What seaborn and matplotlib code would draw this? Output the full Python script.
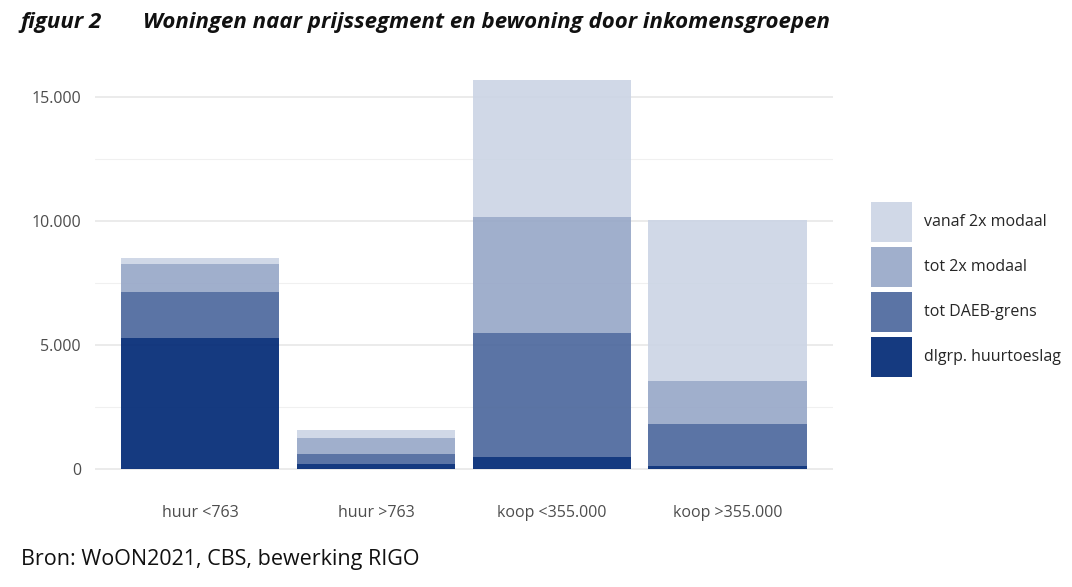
import pandas as pd
import numpy as np
import matplotlib
matplotlib.use('Agg')
import matplotlib.pyplot as plt
import seaborn as sns
from matplotlib.ticker import FuncFormatter, MultipleLocator
from matplotlib.patches import Patch

# data
categories = ['huur <763', 'huur >763', 'koop <355.000', 'koop >355.000']
segments = ['dlgrp. huurtoeslag', 'tot DAEB-grens', 'tot 2x modaal', 'vanaf 2x modaal']
huurtoeslag = [5280, 200, 480, 100]
tot_daeb = [1860, 400, 5000, 1710]
tot_2x = [1130, 650, 4680, 1740]
vanaf_2x = [230, 320, 5530, 6490]

colors = ['#153a80', '#5b74a5', '#a0afcc', '#d0d8e7']

rows = []
for seg, vals in zip(segments, [huurtoeslag, tot_daeb, tot_2x, vanaf_2x]):
    for c, v in zip(categories, vals):
        rows.append({'categorie': c, 'segment': seg, 'aantal': v})
df = pd.DataFrame(rows)

sns.set_style('white')
plt.rcParams['font.family'] = ['Open Sans', 'DejaVu Sans']

fig = plt.figure(figsize=(10.72, 5.87), dpi=100)
ax = fig.add_axes([0.0886, 0.168, 0.6884, 0.730])

# light grid like ggplot
ax.yaxis.set_major_locator(MultipleLocator(5000))
ax.yaxis.set_minor_locator(MultipleLocator(2500))
ax.grid(which='major', axis='y', color='#e6e6e6', linewidth=1.1)
ax.grid(which='minor', axis='y', color='#f0f0f0', linewidth=0.8)
ax.set_axisbelow(True)

alpha = 0.92
bottom = np.zeros(len(categories))
for seg, col in zip(segments, colors):
    rgb = np.array(matplotlib.colors.to_rgb(col))
    base = np.clip((rgb - (1 - alpha)) / alpha, 0, 1)
    sub = df[df['segment'] == seg]
    sns.barplot(data=sub, x='categorie', y='aantal', order=categories,
                color=base, alpha=alpha, width=0.9, bottom=bottom,
                saturation=1, linewidth=0, ax=ax)
    bottom = bottom + sub['aantal'].to_numpy()

ax.set_xlim(-0.6, 3.6)
ax.set_ylim(-785, 16485)
ax.yaxis.set_major_formatter(FuncFormatter(lambda v, p: f'{int(v):,}'.replace(',', '.')))
ax.set_xlabel('')
ax.set_ylabel('')
ax.tick_params(axis='both', which='both', length=0, labelsize=11.5, labelcolor='#4d4d4d')
ax.tick_params(axis='y', pad=10)
ax.tick_params(axis='x', pad=12)
for s in ax.spines.values():
    s.set_visible(False)

# legend, top item = lightest
handles = [Patch(facecolor=c, edgecolor='none') for c in colors][::-1]
fig.legend(handles, segments[::-1], loc='upper left', bbox_to_anchor=(0.805, 0.670),
           frameon=False, fontsize=11.5, handlelength=2.6, handleheight=3.5,
           labelspacing=0.3, handletextpad=0.7, borderpad=0)

fig.text(0.019, 0.962, 'figuur 2', fontsize=16, fontweight='bold', style='italic',
         color='#111111', va='center')
fig.text(0.133, 0.962, 'Woningen naar prijssegment en bewoning door inkomensgroepen',
         fontsize=16, fontweight='bold', style='italic', color='#111111', va='center')
fig.text(0.02, 0.046, 'Bron: WoON2021, CBS, bewerking RIGO', fontsize=15.5,
         color='#111111', va='center')

fig.savefig('out.png', dpi=100)
